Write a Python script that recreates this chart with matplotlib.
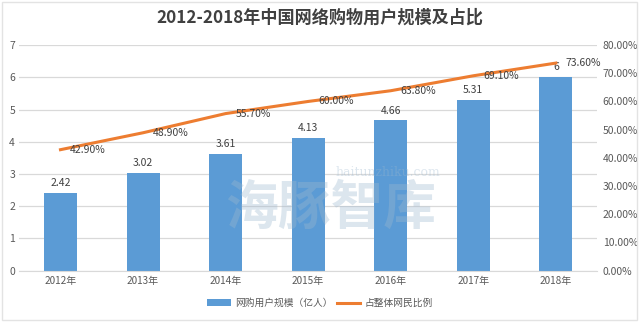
import numpy as np
import matplotlib.pyplot as plt
from matplotlib.ticker import FuncFormatter
from matplotlib.patches import Rectangle

plt.rcParams['font.family'] = ['Noto Sans CJK SC', 'DejaVu Sans']

years = ['2012年', '2013年', '2014年', '2015年', '2016年', '2017年', '2018年']
users = [2.42, 3.02, 3.61, 4.13, 4.66, 5.31, 6]
user_labels = ['2.42', '3.02', '3.61', '4.13', '4.66', '5.31', '6']
share = [42.9, 48.9, 55.7, 60.0, 63.8, 69.1, 73.6]

fig = plt.figure(figsize=(6.4, 3.24), dpi=100)
ax = fig.add_axes([0.030, 0.1645, 0.903, 0.6965])
ax2 = ax.twinx()

# light frame around the chart area
fig.patches.append(Rectangle((0.003, 0.012), 0.992, 0.982, transform=fig.transFigure,
                             fill=False, edgecolor='#E3E3E3', linewidth=1.0))

x = np.arange(len(years))
bars = ax.bar(x, users, width=0.4, color='#5B9BD5', zorder=2, label='网购用户规模（亿人）')
ax.set_xlim(-0.5, len(years) - 0.5)
ax.set_ylim(0, 7)
ax.set_yticks(range(0, 8))
ax.set_xticks(x)
ax.set_xticklabels(years)
ax.grid(axis='y', color='#D9D9D9', linewidth=0.9, zorder=0)
ax.set_axisbelow(True)

for xi, v, lab in zip(x, users, user_labels):
    ax.annotate(lab, (xi, v), xytext=(0, 3.5), textcoords='offset points',
                ha='center', va='bottom', fontsize=7.5, color='#404040')

line, = ax2.plot(x, share, color='#ED7D31', linewidth=2.2, zorder=3, label='占整体网民比例')
ax2.set_ylim(0, 80)
ax2.set_yticks(range(0, 81, 10))
ax2.yaxis.set_major_formatter(FuncFormatter(lambda v, p: f'{v:.2f}%'))

for xi, v in zip(x, share):
    ax2.annotate(f'{v:.2f}%', (xi, v), xytext=(7, 0), textcoords='offset points',
                 ha='left', va='center', fontsize=7.5, color='#404040')

for a in (ax, ax2):
    for s in a.spines.values():
        s.set_visible(False)
    a.tick_params(length=0, labelsize=7.5, labelcolor='#595959')
ax.spines['bottom'].set_visible(True)
ax.spines['bottom'].set_color('#D9D9D9')
ax.tick_params(axis='x', labelsize=7.2, pad=4)
ax.tick_params(axis='y', pad=3)
ax2.tick_params(axis='y', pad=4)

# watermark
fig.text(0.516, 0.358, '海豚智库', fontsize=38, fontweight='bold', color='#9DB8CF',
         alpha=0.35, ha='center', va='center', zorder=0)
fig.text(0.606, 0.469, 'haitunzhiku.com', fontsize=9, color='#9DB8CF', alpha=0.35,
         ha='center', va='center', family='DejaVu Serif')

fig.suptitle('2012-2018年中国网络购物用户规模及占比', x=0.5, y=0.972, fontsize=12.3,
             fontweight='bold', color='#404040')

fig.legend(handles=[bars, line], loc='center', bbox_to_anchor=(0.5, 0.065), ncol=2,
           frameon=False, fontsize=7, labelcolor='#595959', handlelength=2.4,
           handletextpad=0.4, columnspacing=0.5)

fig.savefig('out.png', dpi=100)
